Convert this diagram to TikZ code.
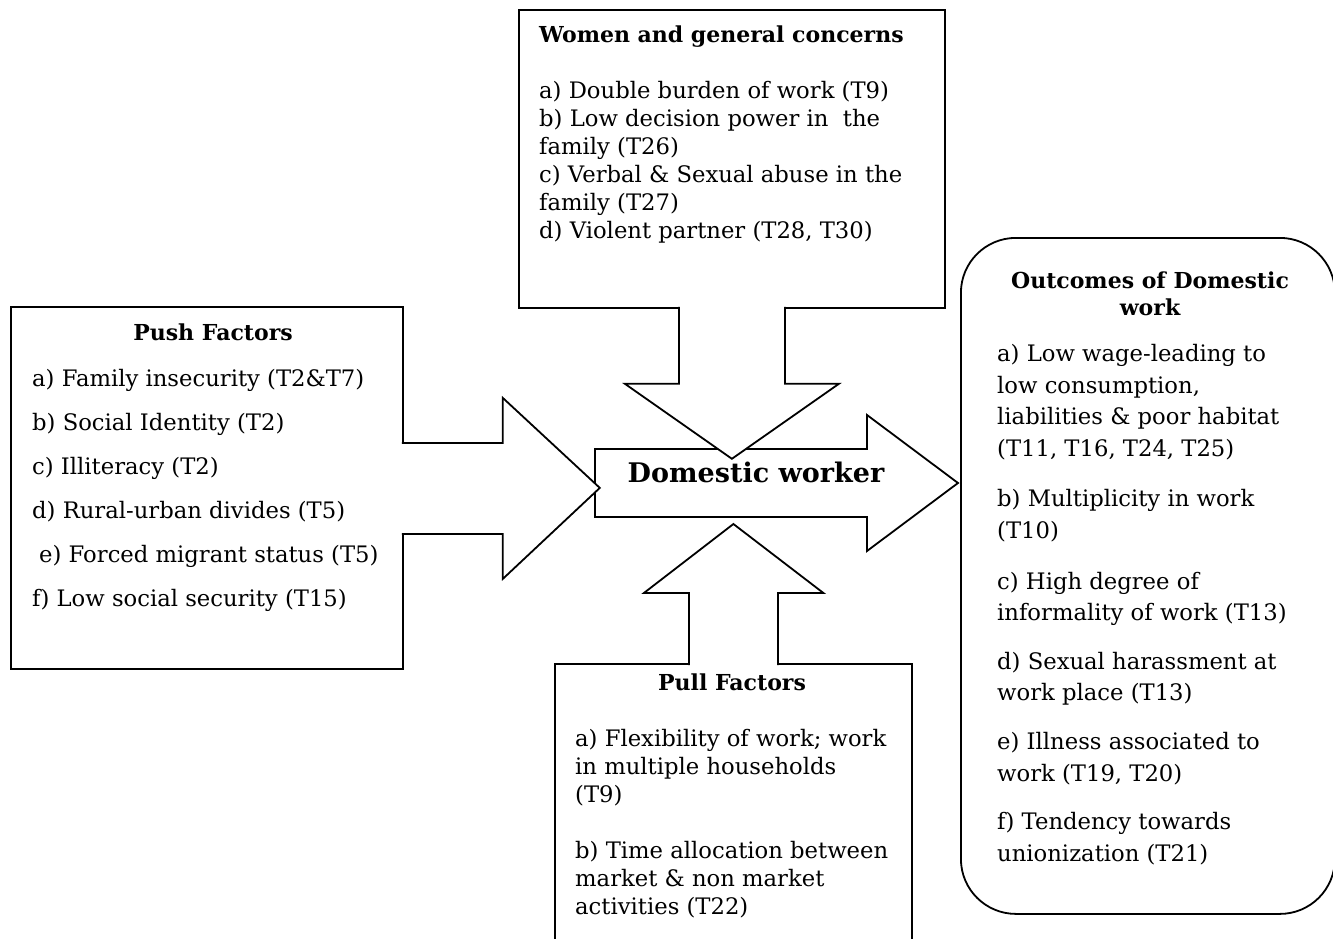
\documentclass[tikz,border=0pt]{standalone}
\usepackage{fontspec}
\setmainfont{DejaVu Serif}
\usetikzlibrary{positioning, calc}

\begin{document}
\begin{tikzpicture}[
    x=1pt, y=-1pt,
    frame/.style={rectangle, draw, line width=1.8pt, anchor=north west, inner sep=0pt},
    blockarrow/.style={draw, fill=white, line width=1.8pt, line join=miter},
    heading/.style={inner sep=0pt, font=\bfseries\fontsize{22}{27}\selectfont, align=center},
    items/.style={inner sep=0pt, anchor=north west, align=left, font=\fontsize{22.7}{28}\selectfont}
]
\useasboundingbox (0,0) rectangle (1333,939);
\clip (0,0) rectangle (1333,939);

% Boxes
\node[frame, minimum width=392, minimum height=362] (push) at (10,306) {};
\node[frame, minimum width=426, minimum height=298] (women) at (518,9) {};
\node[frame, minimum width=357, minimum height=340] (pull) at (554,663) {};
\node[frame, minimum width=374, minimum height=676, rounded corners=55pt] (outcome) at (960,237) {};

% Central arrow
\coordinate (tail) at (595,483);
\coordinate (tip) at ($(outcome.west |- tail)+(-2,0)$);
\filldraw[blockarrow] (tail) ++(0,-34) -| ($(tip)+(-91,-68)$) -- (tip)
    -- ($(tip)+(-91,68)$) |- ($(tail)+(0,34)$) -- cycle;

% Arrow from push factors
\filldraw[blockarrow] ($(push.east)+(-2,-45)$) -- ++(101,0) -- ++(0,-45)
    -- ($(push.east)+(196,0)$) -- ($(push.east)+(99,91)$) -- ++(0,-45)
    -- ($(push.east)+(-2,46)$);

% Arrow from women and general concerns
\filldraw[blockarrow] ($(women.south)+(-53,-2)$) -- ++(0,77) -- ++(-54,0)
    -- ($(women.south)+(0,150)$) -- ($(women.south)+(107,75)$) -- ++(-54,0)
    -- ($(women.south)+(53,-2)$);

% Arrow from pull factors
\filldraw[blockarrow] ($(pull.north)+(-44.5,2)$) -- ++(0,-72) -- ++(-45,0)
    -- ($(pull.north)+(0,-139)$) -- ($(pull.north)+(90,-70)$) -- ++(-45.5,0)
    -- ($(pull.north)+(44.5,2)$);

% Texts
\node[inner sep=0pt, font=\bfseries\fontsize{27}{30}\selectfont] (worker) at (756,472) {Domestic worker};

\node[heading] (pushtitle) at (213,332) {Push Factors};
\node[items, font=\fontsize{22.7}{44}\selectfont] (pushlist) at (32,369) {a) Family insecurity (T2\&T7)\\
b) Social Identity (T2)\\
c) Illiteracy (T2)\\
d) Rural-urban divides (T5)\\
\hspace*{7pt}e) Forced migrant status (T5)\\
f) Low social security (T15)};

\node[items] (womenlist) at (539,26) {\textbf{\fontsize{22}{28}\selectfont Women and general concerns}\\[28pt]
a) Double burden of work (T9)\\
b) Low decision power in \ the\\
family (T26)\\
c) Verbal \& Sexual abuse in the\\
family (T27)\\
d) Violent partner (T28, T30)};

\node[heading] (pulltitle) at (732,682) {Pull Factors};
\node[items] (pulllist) at (575,729) {a) Flexibility of work; work\\
in multiple households\\
(T9)\\[28pt]
b) Time allocation between\\
market \& non market\\
activities (T22)};

\node[heading] (outcometitle) at (1150,294) {Outcomes of Domestic\\work};
\node[items, font=\fontsize{22.7}{31.6}\selectfont] (outcomelist) at (997,344) {a) Low wage-leading to\\
low consumption,\\
liabilities \& poor habitat\\
(T11, T16, T24, T25)\\[19pt]
b) Multiplicity in work\\
(T10)\\[19pt]
c) High degree of\\
informality of work (T13)\\[17pt]
d) Sexual harassment at\\
work place (T13)\\[17pt]
e) Illness associated to\\
work (T19, T20)\\[17pt]
f) Tendency towards\\
unionization (T21)};

\end{tikzpicture}
\end{document}
